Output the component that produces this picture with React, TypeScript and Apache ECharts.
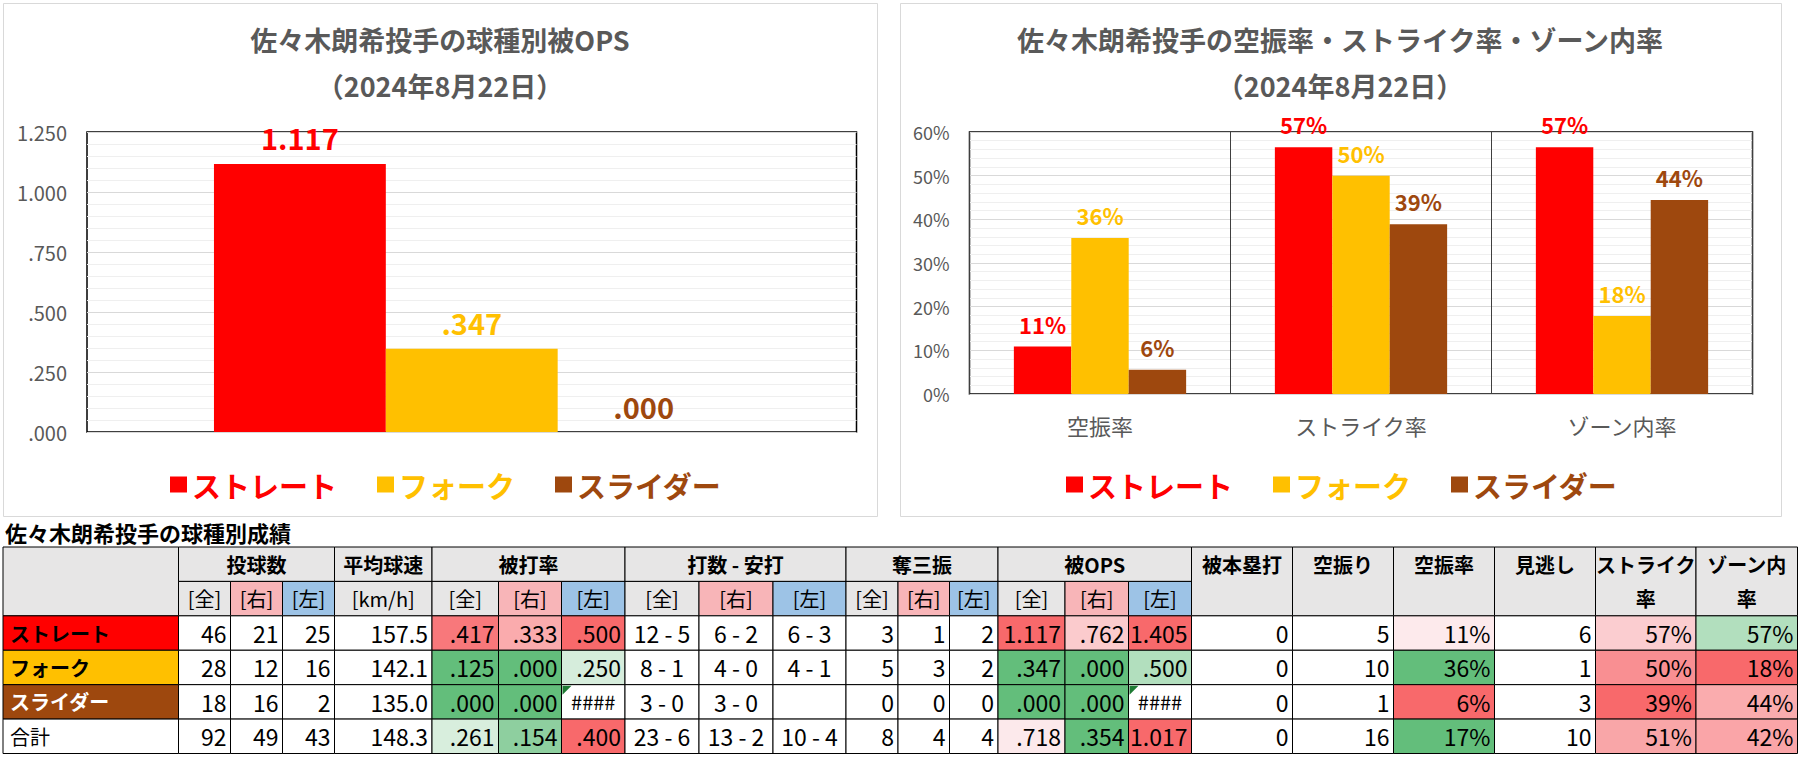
import React, { useEffect, useRef } from 'react';
import * as echarts from 'echarts';

// ---------- chart data ----------
const pitchTypes = ['ストレート', 'フォーク', 'スライダー'];
const opsValues = [1.117, 0.347, 0.0];
const rateCategories = ['空振率', 'ストライク率', 'ゾーン内率'];
const straightRates = [10.87, 56.52, 56.52];
const forkRates = [35.71, 50.0, 17.86];
const sliderRates = [5.56, 38.89, 44.44];

// ---------- table data ----------
const rowLabels = ['ストレート', 'フォーク', 'スライダー', '合計'];
const pitchCounts = [[46, 21, 25], [28, 12, 16], [18, 16, 2], [92, 49, 43]];
const avgSpeed = ['157.5', '142.1', '135.0', '148.3'];
const battingAvg = [['.417', '.333', '.500'], ['.125', '.000', '.250'], ['.000', '.000', '####'], ['.261', '.154', '.400']];
const atBatsHits = [['12 - 5', '6 - 2', '6 - 3'], ['8 - 1', '4 - 0', '4 - 1'], ['3 - 0', '3 - 0', ''], ['23 - 6', '13 - 2', '10 - 4']];
const strikeouts = [[3, 1, 2], [5, 3, 2], [0, 0, 0], [8, 4, 4]];
const opsSplit = [['1.117', '.762', '1.405'], ['.347', '.000', '.500'], ['.000', '.000', '####'], ['.718', '.354', '1.017']];
const homeRuns = [0, 0, 0, 0];
const swingsMissed = [5, 10, 1, 16];
const whiffPct = ['11%', '36%', '6%', '17%'];
const calledStrikes = [6, 1, 3, 10];
const strikePct = ['57%', '50%', '39%', '51%'];
const zonePct = ['57%', '18%', '44%', '42%'];

const groupHeaders = ['投球数', '平均球速', '被打率', '打数 - 安打', '奪三振', '被OPS'];
const subHeaders = ['[全]', '[右]', '[左]'];
const singleHeaders = ['被本塁打', '空振り', '空振率', '見逃し', 'ストライク\n率', 'ゾーン内\n率'];

// ---------- styles ----------
const pitchColors = ['#ff0000', '#ffc000', '#9e480e'];
const labelFills = ['#ff0000', '#ffc000', '#9e480e', '#ffffff'];
const labelTextColors = ['#000000', '#000000', '#ffffff', '#000000'];
const GRAY = '#e7e6e6';
const PINK = '#f8b5b8';
const BLUE = '#9dc3e6';
const subFills = [GRAY, PINK, BLUE];
const avgFills = [['#f8787b', '#faabad', '#f8696b'], ['#63be7b', '#63be7b', '#d6eddc'], ['#63be7b', '#63be7b', '#ffffff'], ['#d8eedd', '#8ecf9f', '#f8696b']];
const opsFills = [['#f8696b', '#fbcbcd', '#f8696b'], ['#63be7b', '#63be7b', '#b2dfbe'], ['#63be7b', '#63be7b', '#ffffff'], ['#fce9eb', '#63be7b', '#f8696b']];
const whiffFills = ['#fdeaec', '#63be7b', '#f8696b', '#63be7b'];
const strikeFills = ['#fbcdd0', '#f98f92', '#f8696b', '#f9a6a8'];
const zoneFills = ['#b2dfbe', '#f8696b', '#faacae', '#faa5a8'];
const colWidths = [175.5, 52, 52, 52, 97.5, 66.5, 63, 63.5, 74, 74, 73, 52, 51.5, 48.5, 67, 63.5, 63, 101, 101, 101, 101, 100.5, 101.5];

const JP = "'Noto Sans CJK JP', 'Noto Sans', sans-serif";
const NUM = "'Liberation Sans Narrow', 'Noto Sans CJK JP', sans-serif";

const fmtOps = (v: number) => {
  const s = Number(v).toFixed(3);
  return s.startsWith('0') ? s.slice(1) : s;
};

type Cell = {
  c0: number; c1: number; r0: number; r1: number; text: string; fill: string;
  align: 'left' | 'center' | 'right'; bold?: boolean; color?: string; font?: string;
  size?: number; ty?: number; lh?: number; flag?: boolean;
};

function buildCells(): Cell[] {
  const cells: Cell[] = [];
  cells.push({ c0: 0, c1: 1, r0: 0, r1: 2, text: '', fill: GRAY, align: 'center' });
  const groupStarts = [1, 4, 5, 8, 11, 14];
  groupHeaders.forEach((h, gi) => {
    const s = groupStarts[gi];
    const span = gi === 1 ? 1 : 3;
    cells.push({ c0: s, c1: s + span, r0: 0, r1: 1, text: h, fill: GRAY, align: 'center', bold: true, font: JP, size: 20 });
    if (span === 1) {
      cells.push({ c0: s, c1: s + 1, r0: 1, r1: 2, text: '[km/h]', fill: GRAY, align: 'center', font: JP, size: 20 });
    } else {
      subHeaders.forEach((sh, k) => {
        cells.push({ c0: s + k, c1: s + k + 1, r0: 1, r1: 2, text: sh, fill: subFills[k], align: 'center', font: JP, size: 20 });
      });
    }
  });
  singleHeaders.forEach((h, k) => {
    const multi = h.includes('\n');
    cells.push({ c0: 17 + k, c1: 18 + k, r0: 0, r1: 2, text: h, fill: GRAY, align: 'center', bold: true, font: JP, size: 20, ty: multi ? 1 : 0.5, lh: multi ? 34.4 : undefined });
  });
  rowLabels.forEach((lab, i) => {
    const r = 2 + i;
    const add = (c: number, text: string, fill = '#ffffff', align: 'left' | 'center' | 'right' = 'right') => {
      const flag = text === '####';
      cells.push({ c0: c, c1: c + 1, r0: r, r1: r + 1, text, fill, align: flag ? 'center' : align, font: NUM, size: flag ? 20 : 23, flag });
    };
    cells.push({ c0: 0, c1: 1, r0: r, r1: r + 1, text: lab, fill: labelFills[i], align: 'left', bold: i < 3, color: labelTextColors[i], font: JP, size: 20 });
    for (let j = 0; j < 3; j++) add(1 + j, String(pitchCounts[i][j]));
    add(4, avgSpeed[i]);
    for (let j = 0; j < 3; j++) add(5 + j, battingAvg[i][j], avgFills[i][j]);
    for (let j = 0; j < 3; j++) add(8 + j, atBatsHits[i][j], '#ffffff', 'center');
    for (let j = 0; j < 3; j++) add(11 + j, String(strikeouts[i][j]));
    for (let j = 0; j < 3; j++) add(14 + j, opsSplit[i][j], opsFills[i][j]);
    add(17, String(homeRuns[i]));
    add(18, String(swingsMissed[i]));
    add(19, whiffPct[i], whiffFills[i]);
    add(20, String(calledStrikes[i]));
    add(21, strikePct[i], strikeFills[i]);
    add(22, zonePct[i], zoneFills[i]);
  });
  return cells;
}

export default function App() {
  const ref = useRef<HTMLDivElement>(null);
  useEffect(() => {
    if (!ref.current) return;
    const chart = echarts.init(ref.current, undefined, { renderer: 'svg' });
    const cells = buildCells();
    const colEdges = [0];
    colWidths.forEach((w) => colEdges.push(colEdges[colEdges.length - 1] + w));
    const tableWidth = colEdges[colEdges.length - 1];

    const legendData = pitchTypes.map((n, i) => ({ name: n, textStyle: { color: pitchColors[i] } }));
    const legendCommon = {
      top: 465, itemWidth: 17, itemHeight: 16, itemGap: 40, icon: 'rect',
      textStyle: { fontSize: 29, fontWeight: 'bold', fontFamily: JP },
      data: legendData,
    };
    const rateSeries = [straightRates, forkRates, sliderRates];

    chart.setOption({
      animation: false,
      backgroundColor: '#ffffff',
      textStyle: { fontFamily: JP },
      graphic: [
        { type: 'rect', shape: { x: 3.5, y: 3.5, width: 874, height: 513 }, style: { fill: 'none', stroke: '#d9d9d9', lineWidth: 1 } },
        { type: 'rect', shape: { x: 900.5, y: 3.5, width: 881, height: 513 }, style: { fill: 'none', stroke: '#d9d9d9', lineWidth: 1 } },
        { type: 'text', x: 440, y: 16, style: { text: '佐々木朗希投手の球種別被OPS\n（2024年8月22日）', align: 'center', verticalAlign: 'top', lineHeight: 46, fontSize: 27, fontWeight: 'bold', fontFamily: JP, fill: '#595959' } },
        { type: 'text', x: 1340, y: 16, style: { text: '佐々木朗希投手の空振率・ストライク率・ゾーン内率\n（2024年8月22日）', align: 'center', verticalAlign: 'top', lineHeight: 46, fontSize: 27, fontWeight: 'bold', fontFamily: JP, fill: '#595959' } },
        { type: 'text', x: 5, y: 532, style: { text: '佐々木朗希投手の球種別成績', align: 'left', verticalAlign: 'middle', fontSize: 22, fontWeight: 'bold', fontFamily: JP, fill: '#000000' } },
      ],
      legend: [
        { ...legendCommon, left: 165 },
        { ...legendCommon, left: 1061 },
      ],
      grid: [
        { left: 87, top: 132, width: 769.5, height: 300, show: true, borderColor: '#000000', borderWidth: 1.5, backgroundColor: 'transparent' },
        { left: 969.5, top: 132, width: 783, height: 262, show: true, borderColor: '#000000', borderWidth: 1.5, backgroundColor: 'transparent' },
        { left: 3, top: 547, width: tableWidth, height: 206.5 },
      ],
      xAxis: [
        { gridIndex: 0, type: 'category', data: ['被OPS'], axisLabel: { show: false }, axisTick: { show: false }, axisLine: { show: false } },
        {
          gridIndex: 1, type: 'category', data: rateCategories,
          axisLabel: { fontSize: 22, color: '#595959', margin: 20 },
          axisTick: { show: false }, axisLine: { show: false },
          splitLine: { show: true, lineStyle: { color: '#3f3f3f', width: 1 } },
        },
        { gridIndex: 2, type: 'value', min: 0, max: tableWidth, show: false },
      ],
      yAxis: [
        {
          gridIndex: 0, type: 'value', min: 0, max: 1.25, interval: 0.25,
          axisLabel: { fontSize: 20, color: '#595959', margin: 20, formatter: (v: number) => fmtOps(v) },
          axisLine: { show: false }, axisTick: { show: false },
          splitLine: { lineStyle: { color: '#d9d9d9' } },
          minorTick: { show: false, splitNumber: 5 },
          minorSplitLine: { show: true, lineStyle: { color: '#efefef' } },
        },
        {
          gridIndex: 1, type: 'value', min: 0, max: 60, interval: 10,
          axisLabel: { fontSize: 18, color: '#595959', margin: 20, formatter: '{value}%' },
          axisLine: { show: false }, axisTick: { show: false },
          splitLine: { lineStyle: { color: '#d9d9d9' } },
          minorTick: { show: false, splitNumber: 5 },
          minorSplitLine: { show: true, lineStyle: { color: '#efefef' } },
        },
        { gridIndex: 2, type: 'value', min: 0, max: 6, inverse: true, show: false },
      ],
      series: [
        ...pitchTypes.map((name, i) => ({
          name, type: 'bar', xAxisIndex: 0, yAxisIndex: 0,
          data: [opsValues[i]], barGap: '0%', barCategoryGap: '33%',
          itemStyle: { color: pitchColors[i] },
          label: { show: true, position: 'top', distance: 12, fontSize: 29, fontWeight: 'bold', color: pitchColors[i], fontFamily: JP, formatter: (p: any) => fmtOps(p.value) },
        })),
        ...pitchTypes.map((name, i) => ({
          name, type: 'bar', xAxisIndex: 1, yAxisIndex: 1,
          data: rateSeries[i], barGap: '0%', barCategoryGap: '34%',
          itemStyle: { color: pitchColors[i] },
          label: { show: true, position: 'top', distance: 12, fontSize: 22, fontWeight: 'bold', color: pitchColors[i], fontFamily: JP, formatter: (p: any) => Math.round(p.value) + '%' },
        })),
        {
          type: 'custom', xAxisIndex: 2, yAxisIndex: 2, silent: true,
          data: cells.map((c) => [colEdges[c.c0], c.r0]),
          renderItem: (params: any, api: any) => {
            const c = cells[params.dataIndex];
            const p0 = api.coord([colEdges[c.c0], c.r0]);
            const p1 = api.coord([colEdges[c.c1], c.r1]);
            const x = p0[0], y = p0[1], w = p1[0] - p0[0], h = p1[1] - p0[1];
            const children: any[] = [
              { type: 'rect', shape: { x, y, width: w, height: h }, style: { fill: c.fill, stroke: '#000000', lineWidth: 1 } },
            ];
            if (c.text) {
              const rowH = api.coord([0, 1])[1] - api.coord([0, 0])[1];
              const ty = c.ty !== undefined ? y + c.ty * rowH : y + h / 2;
              const tx = c.align === 'left' ? x + 7 : c.align === 'right' ? x + w - 4 : x + w / 2;
              children.push({
                type: 'text', x: tx, y: ty,
                style: {
                  text: c.text, align: c.align, verticalAlign: 'middle',
                  fontSize: c.size || 20, fontWeight: c.bold ? 'bold' : 'normal',
                  fontFamily: c.font || JP, fill: c.color || '#000000',
                  lineHeight: c.lh,
                },
              });
            }
            if (c.flag) {
              children.push({ type: 'polygon', shape: { points: [[x + 1, y + 1], [x + 10, y + 1], [x + 1, y + 10]] }, style: { fill: '#1e7b34' } });
            }
            return { type: 'group', children };
          },
        },
      ],
    });
    return () => chart.dispose();
  }, []);
  return (
    <div
      ref={ref}
      style={{ position: 'absolute', left: 0, top: 0, width: 1802, height: 758, background: '#ffffff' }}
    />
  );
}
